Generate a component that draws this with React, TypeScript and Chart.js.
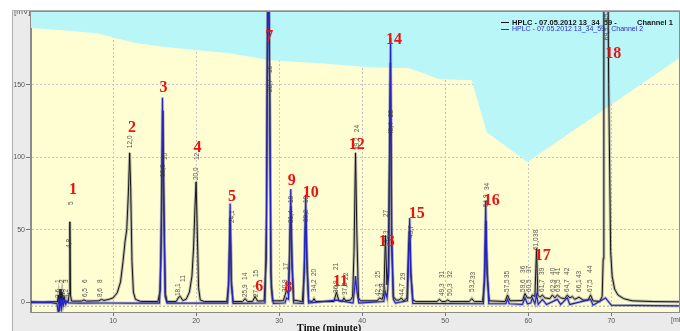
import { useEffect, useRef } from 'react';
import { Chart, registerables } from 'chart.js';

Chart.register(...registerables);

// ---- axis ranges & ticks ----
const X_MIN = 0.12;
const X_MAX = 78.15;
const Y_MIN = -6.7;
const Y_MAX = 200;
const xTicks = [10, 20, 30, 40, 50, 60, 70];
const yTicks = [0, 50, 100, 150];

// ---- Channel 1 (black trace): [time min, mV] ----
const channel1: [number, number][] = [
  [0.12, 0.3], [1.5, 0.2], [3.0, 0.4], [3.3, 0.2], [3.42, 5], [3.5, -1], [3.62, 9], [3.72, 1], [3.85, 7], [3.95, 0.5],
  [4.1, 4], [4.25, 0.5], [4.6, 0.4], [4.72, 6], [4.8, 55.5], [4.88, 5], [5.0, 0.8], [6.2, 0.8], [6.5, 1.6], [6.8, 0.8],
  [8.3, 1], [8.6, 2], [8.9, 1.3], [9.5, 2], [10.0, 3], [10.5, 6.5], [10.9, 14], [11.2, 28], [11.45, 42], [11.65, 50],
  [11.85, 76], [12.0, 103], [12.12, 80], [12.28, 28], [12.45, 7], [12.7, 2], [13.3, 0.6], [15.4, 0.5], [15.68, 8],
  [15.85, 62], [16.0, 132], [16.15, 58], [16.3, 6], [16.5, 0.5], [17.6, 0.5], [17.9, 3.5], [18.1, 4], [18.4, 1.2],
  [18.8, 2], [19.2, 7], [19.5, 18], [19.7, 38], [19.87, 66], [20.0, 83], [20.13, 52], [20.3, 10], [20.5, 1.5], [21, 0.5],
  [23.7, 0.5], [23.92, 12], [24.1, 58], [24.25, 12], [24.45, 0.5], [25.6, 0.5], [25.9, 2.5], [26.2, 0.5], [26.8, 0.6],
  [27.1, 4], [27.4, 0.8], [28.2, 1], [28.45, 30], [28.6, 190], [28.72, 250], [28.85, 160], [29.0, 20], [29.2, 1],
  [30.5, 1], [30.9, 8.5], [31.1, 6], [31.25, 30], [31.4, 66], [31.55, 25], [31.75, 1.5], [32.8, 0.5], [33.02, 20],
  [33.2, 62], [33.35, 25], [33.55, 1], [34.0, 0.5], [34.2, 2.5], [34.4, 0.5], [36.6, 0.5], [36.9, 7], [37.2, 1],
  [37.6, 0.6], [37.8, 3], [38.0, 1], [38.6, 1.5], [38.85, 4], [39.02, 35], [39.2, 103], [39.35, 50], [39.55, 3],
  [39.8, 1], [41.8, 1], [42.1, 3], [42.4, 2], [42.62, 6], [42.8, 46], [42.98, 12], [43.15, 25], [43.4, 165],
  [43.55, 40], [43.75, 4], [44.1, 1.5], [44.45, 1.5], [44.7, 3], [45.0, 1], [45.4, 3], [45.58, 38], [45.7, 50],
  [45.85, 20], [46.1, 1.5], [46.5, 0.5], [49.0, 0.5], [49.3, 2], [49.6, 0.5], [50.0, 0.5], [50.3, 1.5], [50.6, 0.5],
  [52.9, 0.5], [53.2, 2.5], [53.5, 0.5], [54.5, 0.5], [54.75, 15], [54.9, 56], [55.05, 18], [55.3, 1], [57.2, 0.5],
  [57.5, 5], [57.8, 1], [59.3, 1.2], [59.6, 6], [59.9, 3], [60.3, 3], [60.5, 5], [60.8, 4], [61.0, 37], [61.15, 5],
  [61.4, 3.5], [61.7, 5], [62.0, 3], [62.6, 2.5], [62.9, 5], [63.2, 3], [63.5, 5], [63.9, 3], [64.4, 2.5], [64.7, 5],
  [65.0, 3], [65.3, 4], [65.6, 2], [66.1, 3.5], [66.6, 1.5], [67.2, 1.5], [67.5, 5], [67.8, 1], [68.6, 0.6],
  [68.9, 4], [69.02, 30], [69.1, 260], [69.55, 260], [69.68, 150], [69.92, 35], [70.1, 18], [70.4, 9], [70.8, 5],
  [71.5, 2.5], [72.5, 1], [75, 0.5], [78.15, 0.3],
];

// ---- Channel 2 (blue trace): [time min, mV] ----
const channel2: [number, number][] = [
  [0.12, -0.3], [2.5, -0.3], [3.25, -1], [3.38, -6.5], [3.48, 2], [3.58, -6], [3.68, 3], [3.8, -4], [3.9, 1.5],
  [4.02, -2], [4.15, 1], [4.3, -1.5], [4.45, 1], [4.6, -0.5], [6, -0.6], [9, -0.5], [12, -0.6], [15.6, -0.6],
  [15.78, 35], [15.95, 141], [16.1, 70], [16.27, 4], [16.5, -0.6], [23.8, -0.6], [23.95, 20], [24.1, 68], [24.25, 15],
  [24.45, -0.8], [28.3, -0.5], [28.48, 60], [28.65, 250], [28.85, 150], [29.05, 10], [29.3, -0.8], [30.7, -0.5],
  [30.9, 3], [31.12, 2], [31.28, 40], [31.4, 78], [31.55, 30], [31.75, -0.5], [32.9, -0.8], [33.05, 30], [33.2, 74],
  [33.35, 30], [33.55, -0.5], [36.9, 1.5], [38.9, -0.5], [39.1, 10], [39.2, 18], [39.35, 8], [39.6, -0.5],
  [42.6, 0.5], [42.8, 7], [43.0, 3], [43.2, 20], [43.33, 120], [43.42, 182], [43.55, 50], [43.75, 2], [44.0, -0.5],
  [45.45, 1], [45.6, 30], [45.72, 58], [45.87, 20], [46.1, -0.8], [54.6, -1], [54.75, 25], [54.87, 70], [55.0, 30],
  [55.25, -1], [57.3, -1], [57.5, 2], [57.7, -1], [59.3, -1.5], [59.6, 3], [59.9, -1], [60.3, -0.5], [60.5, 3],
  [60.8, -1], [61.0, 5], [61.2, -1.5], [61.7, 2], [62.2, -1.5], [63.5, 2], [63.9, -1.5], [64.7, 3], [65.0, -1.5],
  [67.5, 2], [67.8, -2], [69.3, 3], [70, -2], [78.15, -2.5],
];

// ---- gradient profile (cyan region boundary) ----
const gradientProfile: [number, number][] = [
  [0.12, 189], [4, 187.5], [8.1, 185.4], [12.4, 179], [16, 176], [20.5, 173.5], [24.1, 171.6], [28.9, 166.8],
  [34.9, 164.7], [40.9, 162], [45.7, 161.2], [49.3, 153.6], [53.2, 152.9], [55.0, 117.2], [59.9, 96.6], [78.15, 168.2],
];

const referenceLevel = -2.7;

// ---- red peak numbers: [text, time, mV] ----
const peakNumbers: [string, number, number][] = [
  ['1', 5.18, 77.3], ['2', 12.28, 120], ['3', 16.07, 147.9], ['4', 20.17, 106.2], ['5', 24.32, 72.8],
  ['6', 27.61, 10.5], ['7', 28.81, 183], ['8', 31.1, 9.8], ['9', 31.51, 83.9], ['10', 33.8, 75.2],
  ['11', 37.39, 14], ['12', 39.34, 108.6], ['13', 42.95, 41.5], ['14', 43.83, 180.6], ['15', 46.56, 60.8],
  ['16', 55.59, 69.7], ['17', 61.73, 31.9], ['18', 70.24, 171.3],
];

// ---- small rotated integration tags: [text, time, mV at text start] ----
const peakTags: [string, number, number][] = [
  ['3,6', 3.37, 3], ['3,9', 3.85, 3], ['4,2', 4.33, 3], ['1', 3.37, 13.3], ['2', 3.85, 13.3], ['3', 4.33, 13.3],
  ['4,8', 4.7, 37.4], ['5', 5.0, 67], ['6,5', 6.62, 3.6], ['6', 6.62, 13.3], ['8,6', 8.43, 3.6], ['8', 8.43, 13.3],
  ['12,0', 12.1, 106.2], ['16,0', 16.01, 86.3], ['10', 16.26, 98], ['18,1', 17.8, 4.3], ['11', 18.4, 14],
  ['20,0', 19.99, 84.2], ['12', 20.1, 98], ['24,1', 24.32, 54.6], ['25,9', 25.89, 3.6], ['14', 25.89, 15.4],
  ['27,1', 27.21, 3.6], ['15', 27.21, 17.4], ['28,7', 28.9, 144.8], ['16', 28.9, 157.9], ['30,9', 30.76, 7.1],
  ['17', 30.82, 22.2], ['31,4', 31.43, 54.6], ['18', 31.43, 68.4], ['33,2', 33.23, 55.3], ['19', 33.23, 68.4],
  ['34,2', 34.2, 7.1], ['20', 34.2, 18.1], ['36,9', 36.85, 6.4], ['21', 36.85, 22.2], ['37,8', 37.93, 5],
  ['22', 38.05, 15.4], ['39,2', 39.37, 104.9], ['24', 39.37, 117.2], ['42,1', 41.9, 4.3], ['25', 41.9, 16.7],
  ['42,8', 42.38, 4.3], ['43,3', 42.87, 40.8], ['27', 42.87, 58.7], ['43,4', 43.47, 115.2], ['28', 43.47, 127.6],
  ['44,7', 44.79, 4.3], ['29', 44.91, 15.4], ['45,7', 45.88, 44.3], ['49,3', 49.61, 4.3], ['31', 49.61, 16.7],
  ['50,3', 50.57, 4.3], ['32', 50.57, 16.7], ['53,2', 53.22, 7.1], ['33', 53.34, 16], ['54,9', 54.9, 65.6],
  ['34', 55.02, 77.3], ['57,5', 57.44, 7.1], ['35', 57.44, 16.7], ['59,6', 59.36, 7.1], ['36', 59.36, 20.2],
  ['60,5', 60.08, 7.1], ['37', 60.08, 20.2], ['61,0', 60.93, 36], ['38', 60.93, 45], ['61,7', 61.65, 7.1],
  ['39', 61.65, 18.8], ['62,9', 62.97, 7.1], ['40', 62.97, 18.8], ['63,5', 63.58, 7.1], ['41', 63.58, 18.8],
  ['64,7', 64.66, 7.1], ['42', 64.66, 18.8], ['66,1', 66.1, 7.1], ['43', 66.1, 16.7], ['67,5', 67.43, 7.1],
  ['44', 67.43, 20.2], ['69,5', 69.45, 180.6], ['45', 69.45, 194],
];

const legendTitles = ['HPLC - 07.05.2012 13_34_59 -', 'Channel 1', 'HPLC - 07.05.2012 13_34_59 - Channel 2'];
const xAxisTitle = 'Time (minute)';
const yAxisUnit = '[mV]';
const xAxisUnit = '[min]';

const toXY = (arr: [number, number][]) => arr.map(([x, y]) => ({ x, y }));

export default function App() {
  const ref = useRef<HTMLCanvasElement>(null);

  useEffect(() => {
    document.body.style.margin = '0';
    const canvas = ref.current!;

    const drawLegend = (ctx: CanvasRenderingContext2D) => {
      ctx.save();
      ctx.lineWidth = 1;
      ctx.strokeStyle = '#111';
      ctx.beginPath();
      ctx.moveTo(501, 22.5);
      ctx.lineTo(509, 22.5);
      ctx.stroke();
      ctx.strokeStyle = '#2b2bd0';
      ctx.beginPath();
      ctx.moveTo(501, 29.5);
      ctx.lineTo(509, 29.5);
      ctx.stroke();
      ctx.textBaseline = 'middle';
      ctx.textAlign = 'left';
      ctx.fillStyle = '#111';
      ctx.font = 'bold 7.5px "Liberation Sans"';
      ctx.fillText(legendTitles[0], 512, 22.5);
      ctx.fillText(legendTitles[1], 637, 22.5);
      ctx.fillStyle = '#2b2bd0';
      ctx.font = '7px "Liberation Sans"';
      ctx.fillText(legendTitles[2], 512, 29.5);
      ctx.restore();
    };

    const decor = {
      id: 'decor',
      beforeDraw(chart: any) {
        const { ctx, chartArea: a, width, height } = chart;
        ctx.save();
        ctx.fillStyle = '#ffffff';
        ctx.fillRect(0, 0, width, height);
        ctx.fillStyle = '#ebebeb';
        ctx.fillRect(12, 10, width - 12, height - 10);
        ctx.strokeStyle = '#b0b0b0';
        ctx.lineWidth = 1;
        ctx.beginPath();
        ctx.moveTo(12.5, height);
        ctx.lineTo(12.5, 10.5);
        ctx.lineTo(width, 10.5);
        ctx.stroke();
        ctx.fillStyle = '#fffdd2';
        ctx.fillRect(a.left, a.top, a.right - a.left, a.bottom - a.top);
        ctx.beginPath();
        ctx.rect(12, 11, 19, 10);
        ctx.clip();
        ctx.fillStyle = '#555';
        ctx.font = '8px "Liberation Sans"';
        ctx.textBaseline = 'alphabetic';
        ctx.textAlign = 'left';
        ctx.fillText(yAxisUnit, 14, 13.5);
        ctx.restore();
      },
      afterDatasetDraw(chart: any, args: any) {
        // legend sits above the cyan gradient area but below the traces
        if (args.index === 1) drawLegend(chart.ctx);
      },
      afterDatasetsDraw(chart: any) {
        const { ctx, scales } = chart;
        ctx.save();
        ctx.font = '6.5px "Liberation Sans"';
        ctx.fillStyle = 'rgba(55,55,55,0.85)';
        ctx.textAlign = 'left';
        ctx.textBaseline = 'middle';
        for (const [text, t, v] of peakTags) {
          const x = scales.x.getPixelForValue(t);
          const y = scales.y.getPixelForValue(v);
          ctx.save();
          ctx.translate(x, y);
          ctx.rotate(-Math.PI / 2);
          ctx.fillText(text, 0, 0);
          ctx.restore();
        }
        ctx.restore();
      },
      afterDraw(chart: any) {
        const { ctx, scales, chartArea: a, width } = chart;
        ctx.save();
        ctx.strokeStyle = '#8c8c8c';
        ctx.lineWidth = 1;
        ctx.strokeRect(a.left - 0.5, a.top - 0.5, a.right - a.left + 1, a.bottom - a.top + 1);
        ctx.font = 'bold 16px "Liberation Serif"';
        ctx.fillStyle = '#e81414';
        ctx.textAlign = 'center';
        ctx.textBaseline = 'middle';
        for (const [text, t, v] of peakNumbers) {
          ctx.fillText(text, scales.x.getPixelForValue(t), scales.y.getPixelForValue(v));
        }
        ctx.font = 'bold 10.5px "Liberation Serif"';
        ctx.fillStyle = '#111';
        ctx.textBaseline = 'alphabetic';
        ctx.fillText(xAxisTitle, 329, 330.5);
        ctx.font = '7px "Liberation Sans"';
        ctx.fillStyle = '#555';
        ctx.textAlign = 'left';
        ctx.fillText(xAxisUnit, width - 9, 322);
        ctx.restore();
      },
    };

    const gridColor = (c: any) => (c.tick && c.tick.value === 0 ? 'rgba(0,0,0,0)' : '#c6c6c6');

    const chart = new Chart(canvas, {
      type: 'line',
      data: {
        datasets: [
          {
            data: toXY(gradientProfile),
            fill: 'end',
            backgroundColor: '#b9f6f8',
            borderWidth: 0,
            borderColor: 'rgba(0,0,0,0)',
            pointRadius: 0,
            order: 10,
          },
          {
            data: [{ x: X_MIN, y: referenceLevel }, { x: X_MAX, y: referenceLevel }],
            borderColor: '#a8a8a8',
            borderWidth: 1,
            borderDash: [2, 2],
            pointRadius: 0,
            fill: false,
            order: 9,
          },
          {
            data: toXY(channel1),
            borderColor: 'rgba(110,110,125,0.45)',
            borderWidth: 3,
            pointRadius: 0,
            fill: false,
            order: 8,
          },
          {
            data: toXY(channel2),
            borderColor: 'rgba(110,110,140,0.4)',
            borderWidth: 3,
            pointRadius: 0,
            fill: false,
            order: 7,
          },
          {
            label: 'Channel 1',
            data: toXY(channel1),
            borderColor: '#151515',
            borderWidth: 1,
            pointRadius: 0,
            fill: false,
            order: 2,
          },
          {
            label: 'Channel 2',
            data: toXY(channel2),
            borderColor: '#2323cc',
            borderWidth: 1.2,
            pointRadius: 0,
            fill: false,
            order: 1,
          },
        ],
      },
      options: {
        responsive: false,
        animation: false,
        devicePixelRatio: 1,
        layout: { padding: { left: 0, top: 12, right: 1, bottom: 0 } },
        plugins: {
          legend: { display: false },
          tooltip: { enabled: false },
        },
        elements: { line: { tension: 0 } },
        scales: {
          x: {
            type: 'linear',
            min: X_MIN,
            max: X_MAX,
            z: 1,
            afterBuildTicks: (s: any) => {
              s.ticks = xTicks.map((v) => ({ value: v }));
            },
            afterFit: (s: any) => {
              s.height = 19;
            },
            grid: { color: gridColor, tickColor: '#777', tickLength: 4, lineWidth: 1 },
            border: { display: true, color: '#8c8c8c', dash: [2, 2] },
            ticks: {
              font: { size: 7, family: 'Liberation Sans' },
              color: '#555',
              padding: 1,
              maxRotation: 0,
              autoSkip: false,
            },
          },
          y: {
            type: 'linear',
            min: Y_MIN,
            max: Y_MAX,
            z: 1,
            afterBuildTicks: (s: any) => {
              s.ticks = yTicks.map((v) => ({ value: v }));
            },
            afterFit: (s: any) => {
              s.width = 31;
            },
            grid: { color: gridColor, tickColor: '#777', tickLength: 5, lineWidth: 1 },
            border: { display: true, color: '#8c8c8c', dash: [2, 2] },
            ticks: {
              font: { size: 7, family: 'Liberation Sans' },
              color: '#555',
              padding: 1,
              autoSkip: false,
            },
          },
        },
      },
      plugins: [decor],
    } as any);

    return () => chart.destroy();
  }, []);

  return (
    <canvas
      ref={ref}
      width={680}
      height={331}
      style={{ position: 'fixed', left: 0, top: 0, width: 680, height: 331 }}
    />
  );
}
